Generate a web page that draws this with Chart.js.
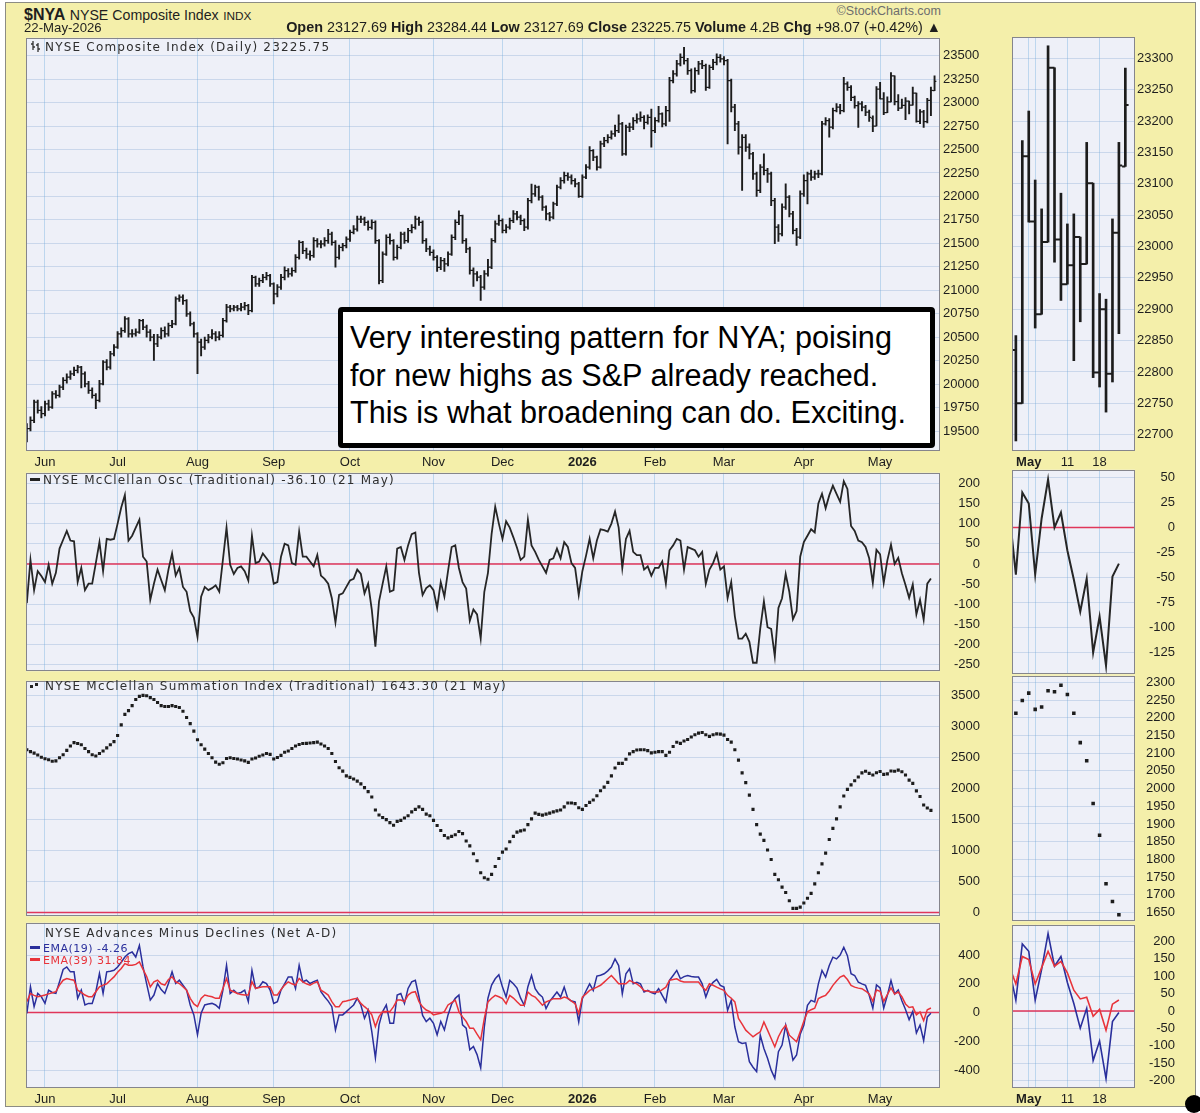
<!DOCTYPE html>
<html>
<head>
<meta charset="utf-8">
<title>$NYA NYSE Composite Index</title>
<script src="https://cdn.jsdelivr.net/npm/chart.js@4.4.1/dist/chart.umd.min.js"></script>
<style>
  html, body { margin: 0; padding: 0; background: #fff; }
  #page { position: relative; width: 1200px; height: 1113px; overflow: hidden; background: #fff; }
  #frame { position: absolute; left: 5px; top: 2px; width: 1189px; height: 1103px; background: #f4efaa; border: 1px solid #8c8c84; }
  #page canvas { position: absolute; }
  .txt { position: absolute; white-space: nowrap; line-height: 1; color: #1e1e1e; font-family: "Liberation Sans", Arial, sans-serif; z-index: 5; }
  .ttl { position: absolute; white-space: nowrap; line-height: 1; color: #2e2e2e; font-family: "DejaVu Sans", Verdana, sans-serif; font-size: 12px; letter-spacing: 1.2px; z-index: 5; }
  .leg { position: absolute; white-space: nowrap; line-height: 1; font-family: "DejaVu Sans", Verdana, sans-serif; font-size: 11px; letter-spacing: 0.5px; z-index: 5; }
  .dash { display: inline-block; width: 10px; height: 3px; vertical-align: middle; margin-right: 3px; position: relative; top: -1px; }
  .sq { display: inline-block; width: 3px; height: 3px; background: #222; margin-right: 2px; vertical-align: middle; }
  #note { position: absolute; left: 338px; top: 307px; width: 597px; height: 141px; box-sizing: border-box; border: 5px solid #000; border-radius: 4px; background: #fff; z-index: 6; }
  .note { font-size: 30.6px; color: #000; z-index: 7; }
  #dot { position: absolute; left: 1185px; top: 1095px; width: 18px; height: 18px; border-radius: 50%; background: #000; z-index: 8; }
</style>
</head>
<body>
<div id="page">
  <div id="frame"></div>

  <div class="txt" style="left:24px;top:6.5px;font-size:16px"><b>$NYA</b> <span style="font-size:14.2px">NYSE Composite Index</span> <span style="font-size:11.8px">INDX</span></div>
  <div class="txt" style="left:24px;top:21px;font-size:13.2px">22-May-2026</div>
  <div class="txt" style="right:259px;top:20px;font-size:14.4px"><b>Open</b> 23127.69 <b>High</b> 23284.44 <b>Low</b> 23127.69 <b>Close</b> 23225.75 <b>Volume</b> 4.2B <b>Chg</b> +98.07 (+0.42%) &#9650;</div>
  <div class="txt" style="right:259px;top:5px;font-size:12.5px;color:#6e6e6e">&copy;StockCharts.com</div>

  <div class="ttl" style="left:30px;top:41.3px"><svg width="12" height="11" viewBox="0 0 12 11" style="vertical-align:-1px;margin-right:3px"><path d="M3 0V9M1 3H3M3 6H5M8 2V11M6 4H8M8 8H10" stroke="#333" stroke-width="1.3" fill="none"/></svg>NYSE Composite Index (Daily) 23225.75</div>
  <div class="ttl" style="left:30px;top:474.3px"><span class="dash" style="background:#222"></span>NYSE McClellan Osc (Traditional) -36.10 (21 May)</div>
  <div class="ttl" style="left:30px;top:680.3px"><span class="sq"></span><span class="sq" style="position:relative;top:-2px"></span> NYSE McClellan Summation Index (Traditional) 1643.30 (21 May)</div>
  <div class="ttl" style="left:45px;top:927px">NYSE Advances Minus Declines (Net A-D)</div>
  <div class="leg" style="left:30px;top:942.5px;color:#2a2f9c"><span class="dash" style="background:#2a2f9c"></span>EMA(19) -4.26</div>
  <div class="leg" style="left:30px;top:954.5px;color:#e8333a"><span class="dash" style="background:#e8333a"></span>EMA(39) 31.84</div>

  <div id="note"></div>
  <div class="txt note" style="left:350px;top:322.2px">Very interesting pattern for NYA; poising</div>
  <div class="txt note" style="left:350px;top:359.7px">for new highs as S&amp;P already reached.</div>
  <div class="txt note" style="left:350px;top:397.2px">This is what broadening can do. Exciting.</div>
  <div id="dot"></div>
</div>

<script>
// trading days 23-May-2025 .. 22-May-2026, x = day index
const monthIdx = [5, 25, 47, 68, 89, 112, 131, 153, 173, 192, 214, 235];
const monthLabels = ['Jun', 'Jul', 'Aug', 'Sep', 'Oct', 'Nov', 'Dec', '2026', 'Feb', 'Mar', 'Apr', 'May'];
const zoomIdx = [235, 236, 241, 246];
const zoomLabels = ['May', '', '11', '18'];

const priceTicks = [19500, 19750, 20000, 20250, 20500, 20750, 21000, 21250, 21500, 21750, 22000, 22250, 22500, 22750, 23000, 23250, 23500];
const oscTicks = [-250, -200, -150, -100, -50, 0, 50, 100, 150, 200];
const sumTicks = [0, 500, 1000, 1500, 2000, 2500, 3000, 3500];
const adTicks = [-400, -200, 0, 200, 400];
const zPriceTicks = [22700, 22750, 22800, 22850, 22900, 22950, 23000, 23050, 23100, 23150, 23200, 23250, 23300];
const zOscTicks = [-125, -100, -75, -50, -25, 0, 25, 50];
const zSumTicks = [1650, 1700, 1750, 1800, 1850, 1900, 1950, 2000, 2050, 2100, 2150, 2200, 2250, 2300];
const zAdTicks = [-200, -150, -100, -50, 0, 50, 100, 150, 200];

const opens = [
  19450, 19525, 19613, 19808, 19720, 19684, 19790, 19755, 19897, 19880,
  19968, 20039, 20074, 20110, 20145, 20180, 20110, 20003, 19933, 19880,
  19826, 20003, 20234, 20180, 20323, 20394, 20535, 20571, 20695, 20535,
  20535, 20553, 20677, 20606, 20553, 20500, 20429, 20500, 20571, 20535,
  20624, 20642, 20908, 20926, 20890, 20748, 20642, 20535, 20447, 20394,
  20465, 20500, 20535, 20500, 20518, 20677, 20819, 20801, 20819, 20801,
  20819, 20837, 20784, 21138, 21067, 21103, 21138, 21156, 21067, 20961,
  21032, 21138, 21209, 21174, 21209, 21351, 21511, 21422, 21386, 21369,
  21528, 21493, 21493, 21528, 21599, 21511, 21351, 21457, 21475, 21546,
  21617, 21652, 21759, 21759, 21723, 21670, 21723, 21528, 21103, 21386,
  21564, 21528, 21351, 21457, 21599, 21528, 21635, 21670, 21759, 21723,
  21528, 21440, 21404, 21351, 21245, 21316, 21280, 21386, 21564, 21723,
  21794, 21528, 21440, 21211, 21175, 21140, 21033, 21175, 21246, 21530,
  21708, 21743, 21637, 21672, 21743, 21814, 21779, 21743, 21672, 21956,
  22027, 22098, 21992, 21885, 21814, 21779, 21921, 22098, 22169, 22222,
  22205, 22169, 22134, 22000, 22205, 22311, 22488, 22418, 22311, 22560,
  22595, 22630, 22666, 22701, 22772, 22453, 22737, 22737, 22808, 22826,
  22843, 22790, 22843, 22701, 22808, 22879, 22772, 22914, 23234, 23305,
  23411, 23482, 23447, 23340, 23127, 23340, 23411, 23394, 23163, 23376,
  23429, 23482, 23465, 23447, 23234, 22950, 22772, 22524, 22630, 22524,
  22453, 22240, 22063, 22311, 22276, 22240, 21956, 21672, 21601, 21885,
  21992, 21814, 21637, 21566, 22027, 22169, 22240, 22205, 22240, 22240,
  22772, 22808, 22737, 22914, 22950, 22914, 23198, 23163, 23056, 22968,
  22985, 22950, 22897, 22835, 22750, 23144, 23040, 22892, 23007, 23285,
  23011, 22940, 22970, 23015, 22972, 23101, 22799, 22900, 22797, 23022,
  23127.69
];
const highs = [
  19578, 19650, 19830, 19830, 19760, 19820, 19830, 19920, 19930, 19990,
  20070, 20110, 20140, 20180, 20200, 20190, 20130, 20030, 19960, 19900,
  20040, 20250, 20260, 20350, 20420, 20560, 20600, 20720, 20710, 20580,
  20590, 20690, 20690, 20630, 20580, 20530, 20530, 20600, 20610, 20650,
  20680, 20930, 20950, 20950, 20900, 20770, 20660, 20550, 20480, 20500,
  20530, 20580, 20560, 20560, 20700, 20850, 20840, 20840, 20840, 20860,
  20870, 20850, 21160, 21150, 21130, 21170, 21190, 21170, 21080, 21060,
  21170, 21250, 21230, 21240, 21380, 21530, 21520, 21450, 21420, 21560,
  21550, 21530, 21560, 21650, 21620, 21530, 21480, 21500, 21570, 21640,
  21690, 21790, 21790, 21780, 21740, 21750, 21740, 21540, 21410, 21590,
  21600, 21540, 21480, 21620, 21620, 21660, 21700, 21790, 21780, 21740,
  21550, 21470, 21430, 21370, 21350, 21340, 21410, 21590, 21750, 21847,
  21800, 21550, 21460, 21240, 21200, 21160, 21210, 21330, 21550, 21740,
  21800, 21760, 21700, 21770, 21850, 21840, 21800, 21760, 21980, 22130,
  22120, 22110, 22010, 21900, 21830, 21940, 22120, 22200, 22260, 22250,
  22230, 22190, 22150, 22230, 22340, 22530, 22500, 22430, 22590, 22630,
  22660, 22700, 22760, 22870, 22790, 22760, 22780, 22840, 22880, 22900,
  22860, 22870, 22930, 22840, 22960, 22890, 22960, 23270, 23340, 23450,
  23520, 23589, 23470, 23360, 23370, 23440, 23450, 23410, 23400, 23460,
  23520, 23510, 23490, 23460, 23250, 22980, 22800, 22660, 22660, 22560,
  22470, 22260, 22340, 22453, 22300, 22260, 21980, 21700, 21920, 22134,
  22010, 21840, 21660, 22060, 22230, 22260, 22280, 22270, 22280, 22800,
  22840, 22830, 22940, 22990, 22980, 23270, 23220, 23180, 23070, 23010,
  23010, 22970, 22920, 22858, 23169, 23216, 23106, 23060, 23320, 23285,
  23085, 23036, 23052, 23015, 23166, 23101, 22925, 22916, 23044, 23166,
  23284.44
];
const lows = [
  19383, 19500, 19590, 19690, 19640, 19660, 19720, 19740, 19850, 19860,
  19940, 20010, 20050, 20090, 20120, 19960, 19970, 19900, 19850, 19738,
  19810, 19990, 20150, 20160, 20300, 20380, 20500, 20550, 20500, 20500,
  20510, 20540, 20580, 20500, 20460, 20252, 20400, 20480, 20500, 20510,
  20600, 20630, 20880, 20850, 20720, 20620, 20500, 20110, 20300, 20370,
  20440, 20480, 20460, 20470, 20500, 20660, 20770, 20780, 20780, 20780,
  20790, 20740, 20770, 21040, 21040, 21080, 21110, 21040, 20855, 20930,
  21010, 21110, 21140, 21150, 21190, 21330, 21390, 21340, 21320, 21350,
  21460, 21450, 21470, 21500, 21480, 21245, 21330, 21420, 21450, 21520,
  21600, 21630, 21720, 21690, 21640, 21650, 21500, 21067, 21080, 21370,
  21490, 21320, 21330, 21440, 21500, 21510, 21610, 21650, 21690, 21500,
  21410, 21370, 21320, 21200, 21220, 21200, 21260, 21370, 21540, 21700,
  21500, 21400, 21170, 21040, 21100, 20891, 21010, 21150, 21230, 21510,
  21690, 21610, 21610, 21650, 21720, 21750, 21700, 21636, 21650, 21930,
  22000, 21960, 21850, 21750, 21740, 21760, 21900, 22080, 22140, 22170,
  22130, 22100, 21990, 21990, 22190, 22290, 22380, 22280, 22300, 22530,
  22570, 22610, 22640, 22680, 22436, 22440, 22690, 22710, 22780, 22800,
  22720, 22770, 22524, 22680, 22790, 22740, 22750, 22800, 23210, 23280,
  23390, 23410, 23300, 23100, 23110, 23300, 23360, 23130, 23150, 23350,
  23400, 23430, 23400, 22560, 22900, 22700, 22450, 22063, 22480, 22400,
  22180, 22000, 22040, 22230, 22150, 21900, 21495, 21520, 21580, 21860,
  21780, 21600, 21477, 21550, 22000, 21921, 22170, 22180, 22200, 22230,
  22760, 22630, 22720, 22900, 22880, 22900, 23130, 23020, 22940, 22736,
  22910, 22860, 22800, 22690, 22750, 23039, 22870, 22892, 23007, 22975,
  22914, 22940, 22818, 22880, 22972, 22791, 22776, 22736, 22784, 22861,
  23127.69
];
const closes = [
  19525, 19613, 19808, 19720, 19684, 19790, 19755, 19897, 19880, 19968,
  20039, 20074, 20110, 20145, 20180, 20110, 20003, 19933, 19880, 19826,
  20003, 20234, 20180, 20323, 20394, 20535, 20571, 20695, 20535, 20535,
  20553, 20677, 20606, 20553, 20500, 20429, 20500, 20571, 20535, 20624,
  20642, 20908, 20926, 20890, 20748, 20642, 20535, 20447, 20394, 20465,
  20500, 20535, 20500, 20518, 20677, 20819, 20801, 20819, 20801, 20819,
  20837, 20784, 21138, 21067, 21103, 21138, 21156, 21067, 20961, 21032,
  21138, 21209, 21174, 21209, 21351, 21511, 21422, 21386, 21369, 21528,
  21493, 21493, 21528, 21599, 21511, 21351, 21457, 21475, 21546, 21617,
  21652, 21759, 21759, 21723, 21670, 21723, 21528, 21103, 21386, 21564,
  21528, 21351, 21457, 21599, 21528, 21635, 21670, 21759, 21723, 21528,
  21440, 21404, 21351, 21245, 21316, 21280, 21386, 21564, 21723, 21794,
  21528, 21440, 21211, 21175, 21140, 21033, 21175, 21246, 21530, 21708,
  21743, 21637, 21672, 21743, 21814, 21779, 21743, 21672, 21956, 22027,
  22098, 21992, 21885, 21814, 21779, 21921, 22098, 22169, 22222, 22205,
  22169, 22134, 22000, 22205, 22311, 22488, 22418, 22311, 22560, 22595,
  22630, 22666, 22701, 22772, 22453, 22737, 22737, 22808, 22826, 22843,
  22790, 22843, 22701, 22808, 22879, 22772, 22914, 23234, 23305, 23411,
  23482, 23447, 23340, 23127, 23340, 23411, 23394, 23163, 23376, 23429,
  23482, 23465, 23447, 23234, 22950, 22772, 22524, 22630, 22524, 22453,
  22240, 22063, 22311, 22276, 22240, 21956, 21672, 21601, 21885, 21992,
  21814, 21637, 21566, 22027, 22169, 22240, 22205, 22240, 22240, 22772,
  22808, 22737, 22914, 22950, 22914, 23198, 23163, 23056, 22968, 22985,
  22950, 22897, 22843, 22750, 23144, 23040, 22892, 23007, 23285, 23011,
  22940, 22970, 23015, 22972, 23101, 22799, 22900, 22797, 23022, 23129,
  23225.75
];

// indicators end on 21 May (index 249)
const osc = [
  -97, 10, -65, -18, -30, -45, -2, -49, -22, 38,
  60, 82, 58, 56, -45, -10, -65, -49, -49, 2,
  54, -18, 62, 60, 62, 100, 140, 171, 58, 70,
  90, 110, 18, 6, -89, -49, -14, -40, -65, -14,
  26, -29, -10, -57, -69, -117, -133, -181, -81, -57,
  -65, -60, -53, -69, 10, 90, -2, -25, -10, -6,
  -18, -41, 70, 2, 6, 26, 14, 2, -49, -45,
  18, 50, 46, 2, -2, 80, 18, 18, 6, -6,
  22, -29, -37, -49, -85, -145, -77, -73, -57, -41,
  -37, -14, -25, -73, -49, -113, -205, -93, -49, -6,
  -69, -65, 38, 42, 10, 46, 74, 78, -22, -77,
  -60, -53, -65, -109, -45, -81, -18, 42, 46, -10,
  -45, -61, -141, -113, -125, -185, -69, -22, 74, 142,
  100, 62, 106, 90, 66, 40, 10, 18, 110, 46,
  30, 10, -6, -22, 10, 14, 38, 14, 54, 42,
  2, -10, -77, -18, 20, 62, 14, 58, 86, 84,
  80, 100, 130, 90, -10, 62, 82, 30, 22, 22,
  -14, -6, -29, -10, -10, 6, -49, 34, 46, 62,
  58, -14, 42, 38, 34, 18, 30, -49, -14, 2,
  26, -14, -6, -85, -45, -130, -185, -185, -173, -193,
  -245, -245, -160, -93, -157, -161, -229, -109, -85, -25,
  -69, -137, -117, 18, 54, 70, 86, 78, 150, 174,
  138, 170, 194, 174, 154, 205, 186, 94, 82, 58,
  54, 42, 14, -47, 35, 24, -47, 9, 48, 0,
  15, -23, -52, -84, -51, -125, -89, -138, -49, -36.1
];
const summation = [
  2621, 2590, 2565, 2535, 2500, 2475, 2460, 2435, 2440, 2490,
  2540, 2610, 2680, 2735, 2720, 2700, 2640, 2590, 2540, 2519,
  2560, 2600, 2650, 2700, 2750, 2850, 3020, 3190, 3250, 3330,
  3430, 3480, 3495, 3490, 3460, 3430, 3380, 3330, 3316, 3316,
  3331, 3316, 3300, 3240, 3140, 3040, 2920, 2780, 2700, 2630,
  2560, 2490, 2420, 2386, 2410, 2480, 2490, 2480, 2470, 2455,
  2440, 2417, 2470, 2488, 2515, 2535, 2560, 2545, 2470, 2495,
  2530, 2580, 2600, 2640, 2680, 2705, 2720, 2723, 2728, 2735,
  2743, 2712, 2680, 2640, 2560, 2430, 2330, 2275, 2200, 2175,
  2150, 2115, 2070, 2010, 1945, 1860, 1650, 1570, 1530, 1495,
  1446, 1405, 1466, 1482, 1520, 1558, 1620, 1660, 1701, 1660,
  1584, 1558, 1482, 1400, 1320, 1240, 1201, 1226, 1252, 1303,
  1270, 1150, 1073, 945, 833, 639, 560, 536, 613, 741,
  869, 971, 1022, 1139, 1226, 1293, 1313, 1328, 1415, 1507,
  1599, 1580, 1568, 1584, 1599, 1620, 1635, 1650, 1701, 1763,
  1763, 1752, 1686, 1660, 1722, 1773, 1810, 1880, 1960, 2018,
  2095, 2200, 2325, 2401, 2401, 2468, 2554, 2590, 2616, 2621,
  2621, 2606, 2570, 2580, 2590, 2590, 2529, 2580, 2672, 2740,
  2723, 2760, 2784, 2825, 2861, 2887, 2897, 2861, 2836, 2861,
  2876, 2871, 2856, 2784, 2743, 2621, 2452, 2248, 2090, 1890,
  1660, 1415, 1262, 1160, 1006, 853, 613, 526, 409, 322,
  189, 66, 66, 87, 153, 230, 307, 460, 639, 782,
  955, 1175, 1354, 1507, 1701, 1875, 1982, 2054, 2120, 2181,
  2248, 2273, 2240, 2213, 2249, 2270, 2224, 2231, 2277, 2274,
  2292, 2266, 2213, 2130, 2079, 1958, 1868, 1731, 1681, 1643.3
];
const ema19 = [
  -5, 179, 41, 133, 110, 64, 156, 140, 133, 214,
  300, 317, 283, 283, 99, 156, 53, 64, 64, 145,
  271, 133, 283, 288, 294, 317, 350, 386, 410, 421,
  386, 467, 317, 200, 87, 122, 202, 160, 133, 202,
  283, 202, 225, 190, 156, 53, -16, -154, -5, 53,
  60, 64, 53, 30, 156, 329, 133, 156, 133, 140,
  156, 76, 294, 168, 179, 214, 202, 156, 64, 76,
  156, 200, 248, 248, 168, 329, 214, 225, 202, 215,
  225, 145, 110, 80, 41, -120, -16, -16, 7, 30,
  53, 99, 53, -39, 18, -131, -315, -85, 7, 53,
  -74, -74, 122, 133, 64, 168, 214, 225, 110, -20,
  -62, -39, -74, -154, -62, -120, -16, 60, 99, 122,
  -85, -108, -258, -235, -292, -384, -100, 100, 191, 235,
  263, 177, 108, 224, 200, 170, 100, 51, 180, 258,
  166, 130, 108, 28, 78, 110, 143, 108, 177, 97,
  80, 74, -65, 97, 150, 200, 154, 254, 260, 270,
  290, 316, 373, 327, 131, 270, 304, 200, 210, 200,
  143, 154, 140, 131, 166, 120, 74, 224, 258, 293,
  235, 250, 258, 251, 247, 247, 200, 108, 177, 210,
  231, 189, 177, 16, 85, -100, -203, -214, -210, -341,
  -380, -410, -157, -250, -318, -400, -456, -272, -226, -88,
  -200, -330, -295, -150, -88, 51, 85, 74, 200, 293,
  247, 327, 385, 373, 400, 454, 396, 270, 258, 212,
  200, 189, 120, 31, 193, 172, 31, 120, 223, 129,
  157, 82, 22, -49, 8, -142, -86, -194, -30, -4.26
];
const ema39 = [
  76, 133, 120, 110, 115, 122, 130, 138, 145, 191,
  225, 237, 230, 225, 156, 140, 122, 110, 110, 145,
  179, 191, 200, 225, 248, 280, 306, 340, 329, 329,
  335, 352, 300, 250, 179, 214, 225, 200, 191, 230,
  248, 214, 202, 180, 156, 99, 60, 41, 99, 122,
  115, 110, 99, 99, 168, 237, 156, 145, 133, 125,
  122, 122, 214, 168, 175, 179, 179, 179, 122, 122,
  160, 191, 214, 200, 191, 237, 214, 200, 191, 205,
  214, 156, 140, 122, 76, 41, 41, 76, 80, 87,
  95, 99, 64, 41, 20, -16, -97, -28, 7, 7,
  7, 41, 87, 87, 76, 122, 140, 145, 76, 40,
  18, 7, -16, -10, -5, 7, 53, 70, 87, 7,
  -30, -62, -108, -108, -150, -189, -41, 74, 100, 120,
  110, 97, 62, 120, 101, 75, 51, 51, 143, 120,
  108, 80, 51, 74, 85, 97, 97, 97, 108, 100,
  80, 62, -7, 108, 130, 154, 165, 177, 190, 212,
  235, 258, 230, 200, 200, 200, 224, 210, 200, 180,
  154, 150, 143, 143, 143, 160, 177, 224, 230, 235,
  220, 212, 212, 212, 212, 212, 180, 154, 200, 190,
  177, 165, 154, 120, 100, 74, -41, -80, -122, -145,
  -168, -150, -134, -65, -122, -180, -237, -168, -120, -88,
  -157, -180, -203, -134, -60, 5, 20, 30, 97, 110,
  120, 150, 189, 220, 247, 258, 230, 189, 177, 170,
  166, 150, 129, 78, 157, 148, 78, 125, 172, 129,
  143, 110, 60, 35, 40, -15, 5, -55, 20, 31.84
];

const page = document.getElementById('page');
Chart.defaults.font.family = '"Liberation Sans", Arial, sans-serif';
Chart.defaults.color = '#1e1e1e';

const H_GRID = 'rgba(120,160,205,0.30)';
const V_GRID = 'rgba(110,170,220,0.38)';

// plot background and panel border
const panelFrame = {
  id: 'panelFrame',
  beforeDraw(chart) {
    const { ctx, chartArea: a } = chart;
    ctx.save();
    ctx.fillStyle = '#eef0f8';
    ctx.fillRect(a.left, a.top, a.width, a.height);
    ctx.restore();
  },
  afterDraw(chart) {
    const { ctx, chartArea: a } = chart;
    ctx.save();
    ctx.strokeStyle = '#85858c';
    ctx.lineWidth = 1;
    ctx.strokeRect(Math.round(a.left) + 0.5, Math.round(a.top) + 0.5, Math.round(a.width) - 1, Math.round(a.height) - 1);
    ctx.restore();
  }
};

const zeroLine = {
  id: 'zeroLine',
  beforeDatasetsDraw(chart, args, opts) {
    if (!opts.on) return;
    const { ctx, chartArea: a, scales: { y } } = chart;
    const py = y.getPixelForValue(0);
    ctx.save();
    ctx.strokeStyle = '#e0365a';
    ctx.lineWidth = 1.5;
    ctx.beginPath();
    ctx.moveTo(a.left, py);
    ctx.lineTo(a.right, py);
    ctx.stroke();
    ctx.restore();
  }
};

// open tick to the left, close tick to the right of each high-low bar
const ohlcTicks = {
  id: 'ohlcTicks',
  afterDatasetsDraw(chart, args, opts) {
    if (!opts.on) return;
    const { ctx, chartArea: a, scales: { x, y } } = chart;
    const half = (x.getPixelForValue(1) - x.getPixelForValue(0)) / 2;
    ctx.save();
    ctx.beginPath();
    ctx.rect(a.left, a.top, a.width, a.height);
    ctx.clip();
    ctx.strokeStyle = '#1c1c1c';
    ctx.lineWidth = opts.width;
    ctx.beginPath();
    closes.forEach((c, i) => {
      const px = x.getPixelForValue(i);
      const yo = y.getPixelForValue(opens[i]);
      const yc = y.getPixelForValue(c);
      ctx.moveTo(px - half, yo);
      ctx.lineTo(px, yo);
      ctx.moveTo(px, yc);
      ctx.lineTo(px + half, yc);
    });
    ctx.stroke();
    ctx.restore();
  }
};

const LEFT = { x: 0, w: 1000, padL: 26, padR: 20, xMin: -0.23, xMax: 251.5, ticks: monthIdx, labels: monthLabels, bold: '2026' };
const RIGHT = { x: 1000, w: 200, padL: 12, padR: 25, xMin: 232.4, xMax: 251.5, ticks: zoomIdx, labels: zoomLabels, bold: 'May' };
const ROWS = {
  price: { top: 27, h: 446, padT: 10, padB: 4, xh: 18 },
  osc: { top: 459, h: 226, padT: 10, padB: 10, xh: 0 },
  sum: { top: 665, h: 267, padT: 10, padB: 10, xh: 0 },
  ad: { top: 912, h: 198, padT: 10, padB: 4, xh: 18 }
};

function panel(col, row, type, datasets, yMin, yMax, yTicks, tickPad, align, extra) {
  const cv = document.createElement('canvas');
  cv.width = col.w;
  cv.height = row.h;
  cv.style.left = col.x + 'px';
  cv.style.top = row.top + 'px';
  page.appendChild(cv);
  return new Chart(cv, {
    type,
    data: { datasets },
    options: {
      responsive: false,
      animation: false,
      events: [],
      layout: { padding: { left: col.padL, right: col.padR, top: row.padT, bottom: row.padB } },
      plugins: Object.assign({ legend: { display: false }, tooltip: { enabled: false } }, extra || {}),
      scales: {
        x: {
          type: 'linear', min: col.xMin, max: col.xMax, offset: false, bounds: 'data',
          afterBuildTicks: s => { s.ticks = col.ticks.map(v => ({ value: v })); },
          afterFit: s => { s.height = row.xh; },
          grid: { color: V_GRID, drawTicks: false, offset: false },
          border: { display: false },
          ticks: {
            display: row.xh > 0, padding: 4, autoSkip: false, maxRotation: 0, color: '#1e1e1e',
            callback: (v, i) => col.labels[i],
            font: c => ({ size: 13, weight: (c.tick && c.tick.label === col.bold) ? 'bold' : 'normal' })
          }
        },
        y: {
          type: 'linear', position: 'right', min: yMin, max: yMax, bounds: 'data',
          afterBuildTicks: s => { s.ticks = yTicks.map(v => ({ value: v })); },
          afterFit: s => { s.width = 40; },
          grid: { color: H_GRID, drawTicks: false },
          border: { display: false },
          ticks: { padding: tickPad, crossAlign: align, autoSkip: false, color: '#1e1e1e', font: { size: 13 }, callback: v => String(v) }
        }
      }
    },
    plugins: [panelFrame, zeroLine, ohlcTicks]
  });
}

const hlBars = w => [{
  data: highs.map((h, i) => ({ x: i, y: [lows[i], h] })),
  backgroundColor: '#1c1c1c', borderWidth: 0, barThickness: w, clip: 0
}];
const oscLine = w => [{
  data: osc.map((v, i) => ({ x: i, y: v })),
  borderColor: '#262626', borderWidth: w, pointRadius: 0, tension: 0, clip: 0
}];
const sumDots = r => [{
  data: summation.map((v, i) => ({ x: i, y: v })),
  pointStyle: 'rect', pointRadius: r, backgroundColor: '#1c1c1c', borderWidth: 0, showLine: false, clip: 0
}];
const adLines = w => [
  { data: ema39.map((v, i) => ({ x: i, y: v })), borderColor: '#e8333a', borderWidth: w, pointRadius: 0, tension: 0, clip: 0 },
  { data: ema19.map((v, i) => ({ x: i, y: v })), borderColor: '#2a2f9c', borderWidth: w, pointRadius: 0, tension: 0, clip: 0 }
];

panel(LEFT, ROWS.price, 'bar', hlBars(1.25), 19287, 23690, priceTicks, 3, 'near', { ohlcTicks: { on: true, width: 1.25 } });
panel(RIGHT, ROWS.price, 'bar', hlBars(2), 22674, 23334, zPriceTicks, 2, 'near', { ohlcTicks: { on: true, width: 2 } });

panel(LEFT, ROWS.osc, 'line', oscLine(1.8), -266, 226, oscTicks, 6, 'far', { zeroLine: { on: true } });
panel(RIGHT, ROWS.osc, 'line', oscLine(2), -146.5, 57.6, zOscTicks, 3, 'far', { zeroLine: { on: true } });

panel(LEFT, ROWS.sum, 'scatter', sumDots(2.2), -60, 3730, sumTicks, 8, 'far', { zeroLine: { on: true } });
panel(RIGHT, ROWS.sum, 'scatter', sumDots(2.5), 1625, 2319, zSumTicks, 3, 'far');

panel(LEFT, ROWS.ad, 'line', adLines(1.5), -524, 624, adTicks, 3, 'far', { zeroLine: { on: true } });
panel(RIGHT, ROWS.ad, 'line', adLines(1.6), -221, 248, zAdTicks, 5, 'far', { zeroLine: { on: true } });
</script>
</body>
</html>
